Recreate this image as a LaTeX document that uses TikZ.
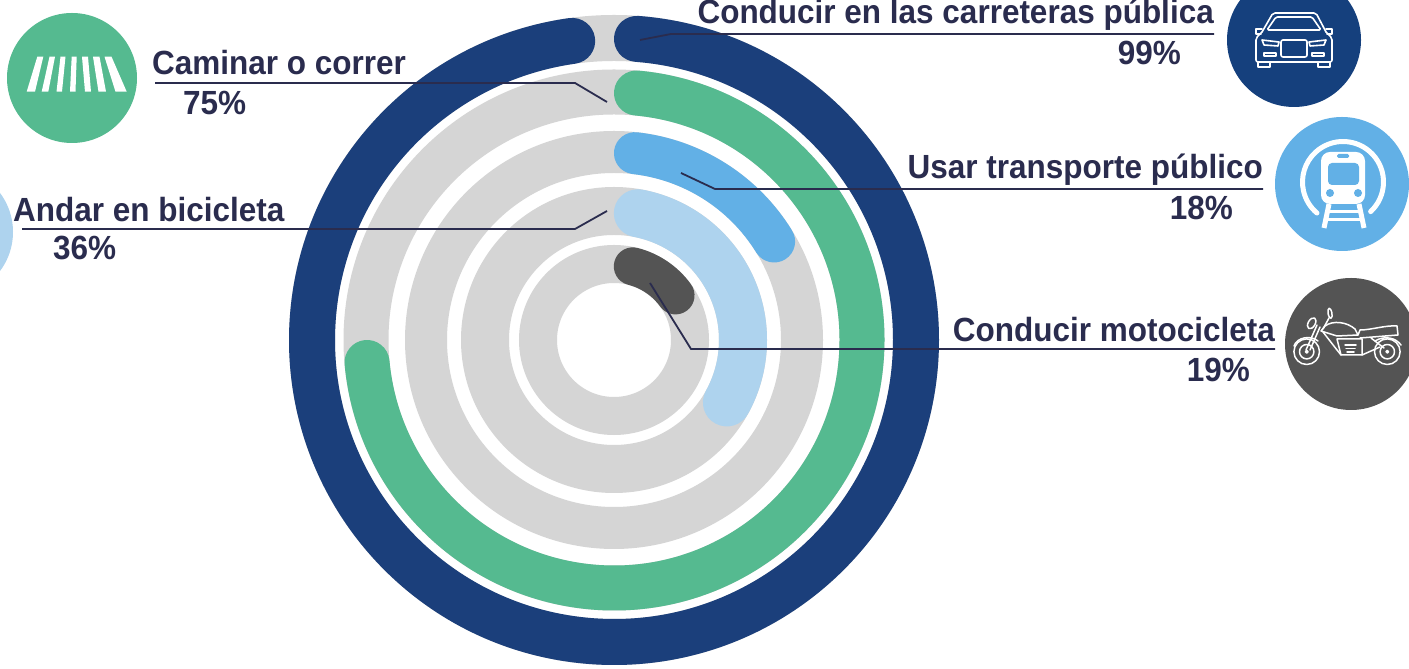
\documentclass[tikz,border=0pt]{standalone}
\usepackage{fontspec}
\setmainfont{Liberation Sans}[FakeStretch=0.94]
\definecolor{navy}{HTML}{1B3F7B}
\definecolor{carbg}{HTML}{15407D}
\definecolor{grn}{HTML}{55BA90}
\definecolor{blu}{HTML}{62B0E6}
\definecolor{lblu}{HTML}{AED3EE}
\definecolor{dgray}{HTML}{545454}
\definecolor{trk}{HTML}{D5D5D5}
\definecolor{ink}{HTML}{2A2C4E}
\begin{document}
\begin{tikzpicture}[x=1pt,y=1pt,
  lab/.style={font=\fontsize{33.5}{36}\selectfont\bfseries, text=ink, inner sep=0pt},
  leader/.style={draw=ink, line width=1.8pt},
  ic/.style={draw=white, line width=1.6pt, line join=round, line cap=round},
  ring/.style={line width=#1, line cap=round}]
\useasboundingbox (0,0) rectangle (1409,669);
\fill[white] (0,0) rectangle (1409,669);
\coordinate (C) at (614,329);
% tracks
\foreach \r/\w in {302/46,248/45,188/42,129/48,76/38}
  \draw[trk, line width=\w pt] (C) circle[radius=\r];
% bars
\draw[navy, ring=46pt] (C) ++(85.64:302) arc[start angle=85.64, end angle=-262.04, radius=302];
\draw[grn, ring=45pt] (C) ++(84.8:248) arc[start angle=84.8, end angle=-174.8, radius=248];
\draw[blu, ring=42pt] (C) ++(83.6:188) arc[start angle=83.6, end angle=31.6, radius=188];
\draw[lblu, ring=48pt] (C) ++(79.34:129) arc[start angle=79.34, end angle=-28.94, radius=129];
\draw[dgray, ring=38pt] (C) ++(75.68:76) arc[start angle=75.68, end angle=35.92, radius=76];

% icon circles
\fill[grn] (72,591) circle[radius=65];
\fill[lblu] (-52,437) circle[radius=65];
\fill[carbg] (1294,629) circle[radius=67];
\fill[blu] (1342,485) circle[radius=67];
\fill[dgray] (1351,325) circle[radius=66];

% crosswalk icon
\foreach \tl/\tr/\br/\bl in {37.3/43.3/35/26.7, 49.5/55/48.3/41.7, 60.5/65.5/62/56.5,
    71.7/76.7/75.5/70, 82/88/91/85, 93/99.5/106/98.5, 104.5/111.5/126.7/115.5}
  \fill[white] (\tl,612.3) -- (\tr,612.3) -- (\br,577.3) -- (\bl,577.3) -- cycle;

% car icon
\begin{scope}[shift={(1294,629)}, yscale=-1]
  \draw[ic, rounded corners=2pt] (-32,-8) -- (-21,-27) -- (22,-27) -- (32,-8);
  \draw[ic, rounded corners=1.5pt] (-27,-10) -- (-18,-23) -- (18,-23) -- (27,-10) -- cycle;
  \draw[ic] (-32,-11) -- (-38,-11) -- (-38,-6) -- (-33,-6);
  \draw[ic] (32,-11) -- (38,-11) -- (38,-6) -- (33,-6);
  \draw[ic, rounded corners=2pt] (-32,-8) -- (-38,-2) -- (-38,22) -- (38,22) -- (38,-2) -- (32,-8);
  \draw[ic] (-32,0) -- (-15,2) -- (-16,6) -- (-30,5) -- cycle;
  \draw[ic] (32,0) -- (15,2) -- (16,6) -- (30,5) -- cycle;
  \draw[ic, rounded corners=2pt] (-13,0) rectangle (13,17);
  \draw[ic] (-30,13) rectangle (-18,16);
  \draw[ic] (30,13) rectangle (18,16);
  \draw[ic] (-36,22) -- (-36,27) -- (-24,27) -- (-24,22);
  \draw[ic] (36,22) -- (36,27) -- (24,27) -- (24,22);
\end{scope}

% train icon
\begin{scope}[shift={(1343,487)}, yscale=-1]
  \draw[white, line width=5pt, line cap=round] (47:40.5) arc[start angle=47, end angle=-230, radius=40.5];
  \fill[white, rounded corners=9pt] (-22,22) -- (-22,-30) -- (22,-30) -- (22,22) -- cycle;
  \fill[blu, rounded corners=1.5pt] (-6,-28) rectangle (6,-24);
  \fill[blu, rounded corners=4pt] (-15,3) -- (-15,-19) -- (16,-19) -- (16,3) -- cycle;
  \fill[blu] (-13,11) circle[radius=4];
  \fill[blu] (15,11) circle[radius=4];
  \draw[white, line width=5pt] (-14,22) -- (-19,46);
  \draw[white, line width=5pt] (16,22) -- (21,46);
  \draw[white, line width=3pt] (-16,30) -- (18,30);
  \draw[white, line width=3pt] (-18,38) -- (20,38);
\end{scope}

% motorcycle icon
\begin{scope}[shift={(1351,325)}, yscale=-1, ic/.append style={line width=1.5pt}]
  \foreach \x in {-44.3,36.3} {
    \draw[ic] (\x,7.7) circle[radius=12.8];
    \draw[ic] (\x,7.7) circle[radius=7.2];
    \draw[ic] (\x,7.7) circle[radius=1.3];
  }
  \draw[ic, rotate around={30:(-39.3,-20.7)}] (-39.3,-20.7) ellipse[x radius=3.5, y radius=6];
  \draw[ic, rotate around={-10:(-21,-30.7)}] (-21,-30.7) ellipse[x radius=2, y radius=5];
  \draw[ic] (-45,6) -- (-34,-19);
  \draw[ic] (-41,6) -- (-31,-17);
  \draw[ic] (-22,-26) -- (-28,-15);
  \draw[ic] (-30,-13) -- (-26,-18) .. controls (-18,-24) and (-4,-22) .. (4,-15) -- (7,-9) -- (-14,-8) -- cycle;
  \draw[ic] (-14,-5) -- (11,-5) -- (11,11) -- (-10,11) -- cycle;
  \draw[ic] (-6,1) -- (5,1);
  \draw[ic] (-5,4.5) -- (4,4.5);
  \draw[ic] (-4,8) -- (3,8);
  \draw[ic] (7,-9) -- (9,-14) .. controls (20,-14) and (35,-19) .. (46,-18) -- (47,-9) -- (9,-6);
  \draw[ic] (11,11) -- (29,3);
  \draw[ic] (20,-6) -- (33,4);
  \draw[ic] (24,-3) .. controls (34,-9) and (45,-6) .. (50,1);
  \draw[ic] (-28,-12) -- (-14,6) -- (-10,11);
  \draw[ic] (-57,2) .. controls (-54,-7) and (-40,-9) .. (-33,-3);
\end{scope}

% labels
\node[lab, anchor=base east] (carT) at (1214,645) {Conducir en las carreteras pública};
\node[lab, anchor=base east] (carP) at (1181,604) {99\%};
\node[lab, anchor=base west] (walkT) at (152,594) {Caminar o correr};
\node[lab, anchor=base west] (walkP) at (183,554) {75\%};
\node[lab, anchor=base west] (bikeT) at (13,447) {Andar en bicicleta};
\node[lab, anchor=base west] (bikeP) at (53,409) {36\%};
\node[lab, anchor=base east] (trainT) at (1263,490) {Usar transporte público};
\node[lab, anchor=base east] (trainP) at (1233,449) {18\%};
\node[lab, anchor=base east] (motoT) at (1275,327) {Conducir motocicleta};
\node[lab, anchor=base east] (motoP) at (1250,287) {19\%};

% leaders
\coordinate (carA) at (640,629);
\coordinate (carB) at (671,635);
\coordinate (walkA) at (607,567);
\coordinate (walkB) at (575,586);
\coordinate (walkE) at (155,586);
\coordinate (bikeA) at (607,458);
\coordinate (bikeB) at (575,440);
\coordinate (bikeE) at (22,440);
\coordinate (trainA) at (681,496);
\coordinate (trainB) at (715,480);
\coordinate (motoA) at (650,386);
\coordinate (motoB) at (691,320);
\draw[leader] (carA) -- (carB) -- (carB -| carT.east);
\draw[leader] (walkA) -- (walkB) -- (walkE);
\draw[leader] (bikeA) -- (bikeB) -- (bikeE);
\draw[leader] (trainA) -- (trainB) -- (trainB -| trainT.east);
\draw[leader] (motoA) -- (motoB) -- (motoB -| motoT.east);
\end{tikzpicture}
\end{document}
